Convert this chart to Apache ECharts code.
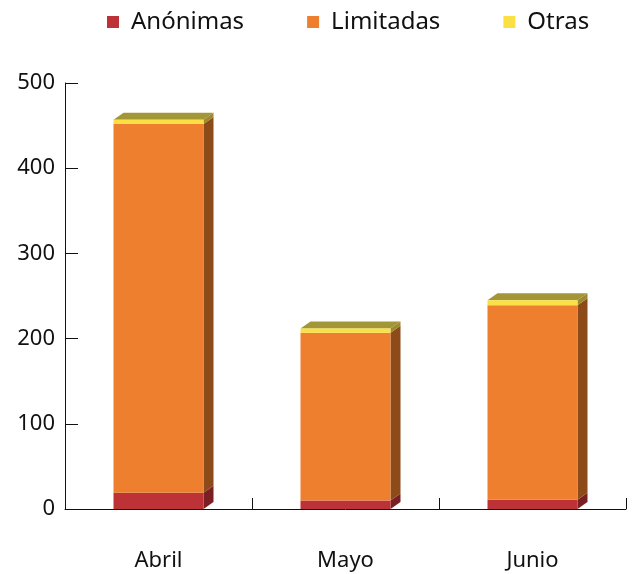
<!DOCTYPE html>
<html>
<head>
<meta charset="utf-8">
<script src="https://cdn.jsdelivr.net/npm/echarts@6/dist/echarts.min.js"></script>
<style>
html,body{margin:0;padding:0;background:#fff;}
#chart{width:632px;height:574px;}
</style>
</head>
<body>
<div id="chart"></div>
<script>
const categories = ['Abril', 'Mayo', 'Junio'];
const seriesNames = ['Anónimas', 'Limitadas', 'Otras'];
const anonimas = [19, 10, 11];
const limitadas = [433, 197, 228];
const otras = [5, 5, 6];
const yTicks = [0, 100, 200, 300, 400, 500];

const frontColors = ['#bd3237', '#ed7f2f', '#fae045'];
const sideColors = ['#7c1f22', '#8e4b1a', '#9d8a2c'];
const topColor = '#a39636';
const FONT = '"Noto Sans", sans-serif';
const BAR_W = 90, DX = 10, DY = 7;

const chart = echarts.init(document.getElementById('chart'), null, {renderer: 'canvas'});

const depthData = categories.map((c, i) => [i, anonimas[i], limitadas[i], otras[i]]);

const option = {
  animation: false,
  backgroundColor: '#ffffff',
  legend: {
    left: 102, top: 5,
    itemWidth: 12, itemHeight: 12, itemGap: 63,
    icon: 'rect',
    data: seriesNames,
    textStyle: {fontFamily: FONT, fontSize: 24, color: '#111', padding: [0, 0, 0, 7]}
  },
  grid: {left: 65, right: 6, top: 83, bottom: 65, containLabel: false},
  xAxis: {
    type: 'category',
    data: categories,
    axisLine: {lineStyle: {color: '#111', width: 1}},
    axisTick: {show: true, inside: true, length: 11, lineStyle: {color: '#111'}},
    axisLabel: {fontFamily: FONT, fontSize: 22, color: '#111', margin: 41}
  },
  yAxis: {
    type: 'value',
    min: yTicks[0], max: yTicks[yTicks.length - 1], interval: 100,
    splitLine: {show: false},
    axisLine: {show: true, lineStyle: {color: '#111', width: 1}},
    axisTick: {show: true, inside: true, length: 13, lineStyle: {color: '#111'}},
    axisLabel: {fontFamily: FONT, fontSize: 22, color: '#111', margin: 10}
  },
  series: [
    {name: seriesNames[0], type: 'bar', stack: 'tot', barWidth: BAR_W, data: anonimas, itemStyle: {color: frontColors[0]}},
    {name: seriesNames[1], type: 'bar', stack: 'tot', barWidth: BAR_W, data: limitadas, itemStyle: {color: frontColors[1]}},
    {name: seriesNames[2], type: 'bar', stack: 'tot', barWidth: BAR_W, data: otras, itemStyle: {color: frontColors[2]}},
    {
      name: 'depth', type: 'custom', clip: false, silent: true,
      data: depthData,
      encode: {x: 0, y: [1, 2, 3]},
      renderItem: function (params, api) {
        const i = api.value(0);
        const vals = [api.value(1), api.value(2), api.value(3)];
        const c = api.coord([i, 0]);
        const xl = c[0] - BAR_W / 2, xr = c[0] + BAR_W / 2;
        let cum = 0;
        const children = [];
        for (let k = 0; k < 3; k++) {
          const y0 = api.coord([i, cum])[1];
          cum += vals[k];
          const y1 = api.coord([i, cum])[1];
          children.push({
            type: 'polygon',
            shape: {points: [[xr, y0], [xr, y1], [xr + DX, y1 - DY], [xr + DX, y0 - DY]]},
            style: {fill: sideColors[k]}
          });
        }
        const yt = api.coord([i, cum])[1];
        children.push({
          type: 'polygon',
          shape: {points: [[xl, yt], [xr, yt], [xr + DX, yt - DY], [xl + DX, yt - DY]]},
          style: {fill: topColor}
        });
        return {type: 'group', children: children};
      }
    }
  ]
};
chart.setOption(option);
</script>
</body>
</html>
